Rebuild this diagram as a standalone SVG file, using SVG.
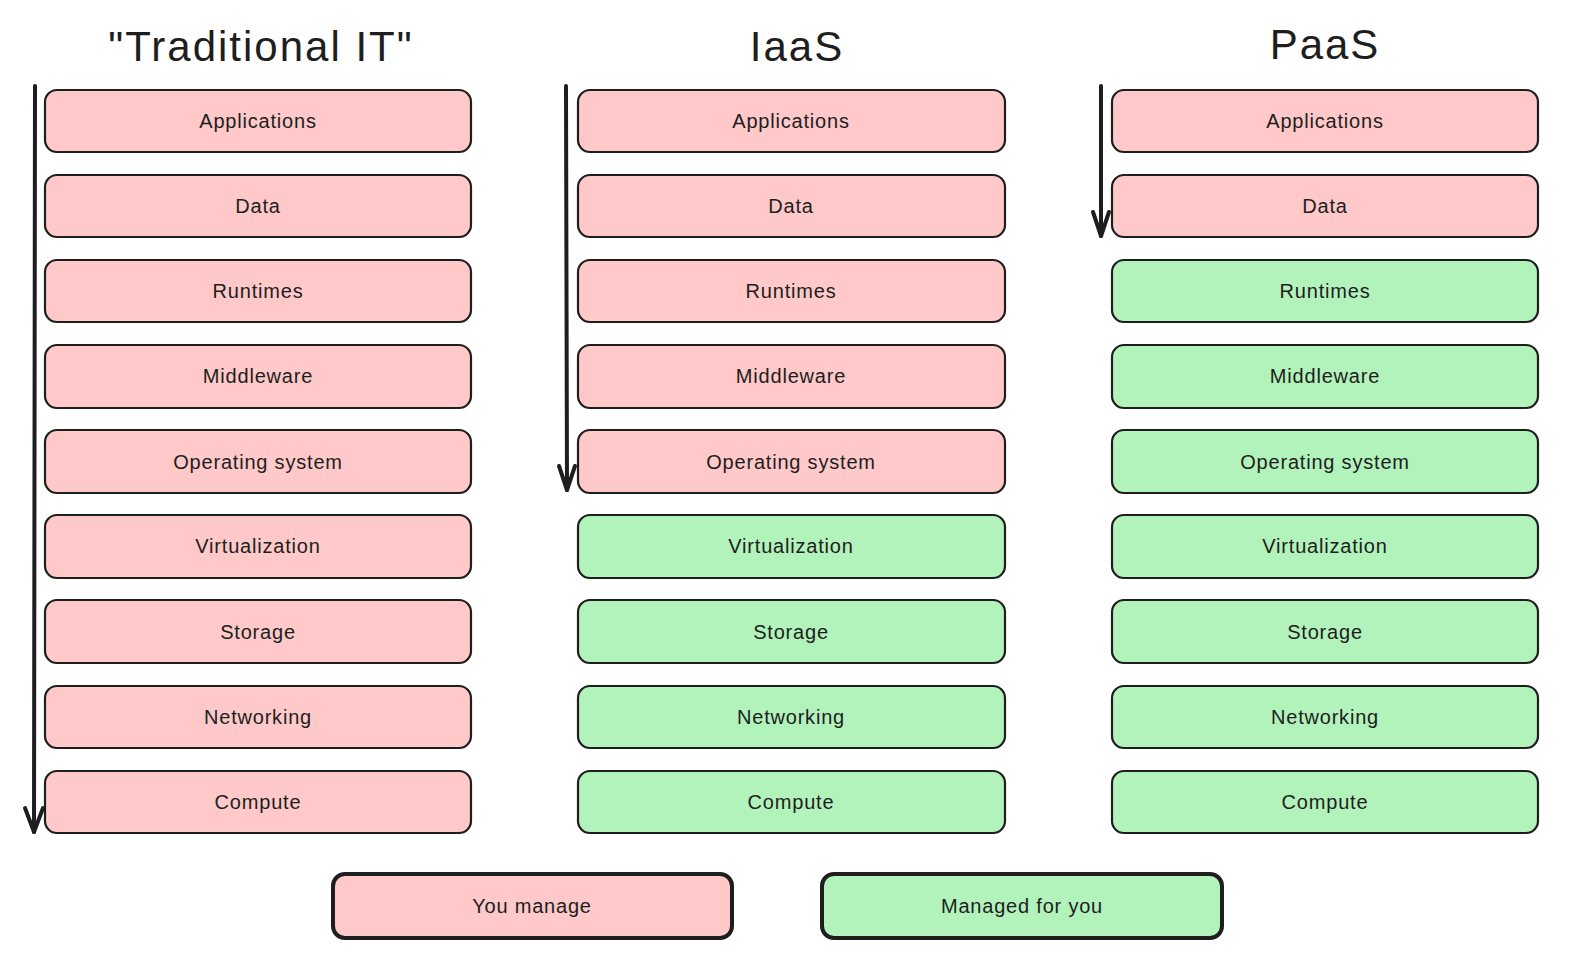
<svg xmlns="http://www.w3.org/2000/svg" width="1583" height="968" viewBox="0 0 1583 968">
<defs>
<style>
.bg{fill:#ffffff}
.you rect{fill:#ffc9c9;stroke:#1e1e1e;stroke-width:2.2}
.mgd rect{fill:#b2f2bb;stroke:#1e1e1e;stroke-width:2.2}
.leg rect{stroke-width:4}
.lbl{font-family:"Liberation Sans","DejaVu Sans",sans-serif;font-size:20px;letter-spacing:0.8px;fill:#1e1e1e;text-anchor:middle;dominant-baseline:central}
.title{font-family:"Liberation Sans","DejaVu Sans",sans-serif;font-size:42px;letter-spacing:2px;fill:#1e1e1e;text-anchor:middle}
.arr{stroke:#1e1e1e;stroke-width:4;fill:none;stroke-linecap:round;stroke-linejoin:round}
</style>
</defs>
<rect class="bg" x="0" y="0" width="1583" height="968"/>
<g id="titles">
<text class="title" x="261" y="61">"Traditional IT"</text>
<text class="title" x="797" y="61">IaaS</text>
<text class="title" x="1325" y="59">PaaS</text>
</g>
<g id="col1">
<g id="c1-applications" class="you"><rect x="45" y="90" width="426" height="62" rx="12"/><text class="lbl" x="258" y="121">Applications</text></g>
<g id="c1-data" class="you"><rect x="45" y="175" width="426" height="62" rx="12"/><text class="lbl" x="258" y="206">Data</text></g>
<g id="c1-runtimes" class="you"><rect x="45" y="260" width="426" height="62" rx="12"/><text class="lbl" x="258" y="291">Runtimes</text></g>
<g id="c1-middleware" class="you"><rect x="45" y="345" width="426" height="63" rx="12"/><text class="lbl" x="258" y="376">Middleware</text></g>
<g id="c1-os" class="you"><rect x="45" y="430" width="426" height="63" rx="12"/><text class="lbl" x="258" y="462">Operating system</text></g>
<g id="c1-virtualization" class="you"><rect x="45" y="515" width="426" height="63" rx="12"/><text class="lbl" x="258" y="546">Virtualization</text></g>
<g id="c1-storage" class="you"><rect x="45" y="600" width="426" height="63" rx="12"/><text class="lbl" x="258" y="632">Storage</text></g>
<g id="c1-networking" class="you"><rect x="45" y="686" width="426" height="62" rx="12"/><text class="lbl" x="258" y="717">Networking</text></g>
<g id="c1-compute" class="you"><rect x="45" y="771" width="426" height="62" rx="12"/><text class="lbl" x="258" y="802">Compute</text></g>
</g>
<g id="col2">
<g id="c2-applications" class="you"><rect x="578" y="90" width="427" height="62" rx="12"/><text class="lbl" x="791" y="121">Applications</text></g>
<g id="c2-data" class="you"><rect x="578" y="175" width="427" height="62" rx="12"/><text class="lbl" x="791" y="206">Data</text></g>
<g id="c2-runtimes" class="you"><rect x="578" y="260" width="427" height="62" rx="12"/><text class="lbl" x="791" y="291">Runtimes</text></g>
<g id="c2-middleware" class="you"><rect x="578" y="345" width="427" height="63" rx="12"/><text class="lbl" x="791" y="376">Middleware</text></g>
<g id="c2-os" class="you"><rect x="578" y="430" width="427" height="63" rx="12"/><text class="lbl" x="791" y="462">Operating system</text></g>
<g id="c2-virtualization" class="mgd"><rect x="578" y="515" width="427" height="63" rx="12"/><text class="lbl" x="791" y="546">Virtualization</text></g>
<g id="c2-storage" class="mgd"><rect x="578" y="600" width="427" height="63" rx="12"/><text class="lbl" x="791" y="632">Storage</text></g>
<g id="c2-networking" class="mgd"><rect x="578" y="686" width="427" height="62" rx="12"/><text class="lbl" x="791" y="717">Networking</text></g>
<g id="c2-compute" class="mgd"><rect x="578" y="771" width="427" height="62" rx="12"/><text class="lbl" x="791" y="802">Compute</text></g>
</g>
<g id="col3">
<g id="c3-applications" class="you"><rect x="1112" y="90" width="426" height="62" rx="12"/><text class="lbl" x="1325" y="121">Applications</text></g>
<g id="c3-data" class="you"><rect x="1112" y="175" width="426" height="62" rx="12"/><text class="lbl" x="1325" y="206">Data</text></g>
<g id="c3-runtimes" class="mgd"><rect x="1112" y="260" width="426" height="62" rx="12"/><text class="lbl" x="1325" y="291">Runtimes</text></g>
<g id="c3-middleware" class="mgd"><rect x="1112" y="345" width="426" height="63" rx="12"/><text class="lbl" x="1325" y="376">Middleware</text></g>
<g id="c3-os" class="mgd"><rect x="1112" y="430" width="426" height="63" rx="12"/><text class="lbl" x="1325" y="462">Operating system</text></g>
<g id="c3-virtualization" class="mgd"><rect x="1112" y="515" width="426" height="63" rx="12"/><text class="lbl" x="1325" y="546">Virtualization</text></g>
<g id="c3-storage" class="mgd"><rect x="1112" y="600" width="426" height="63" rx="12"/><text class="lbl" x="1325" y="632">Storage</text></g>
<g id="c3-networking" class="mgd"><rect x="1112" y="686" width="426" height="62" rx="12"/><text class="lbl" x="1325" y="717">Networking</text></g>
<g id="c3-compute" class="mgd"><rect x="1112" y="771" width="426" height="62" rx="12"/><text class="lbl" x="1325" y="802">Compute</text></g>
</g>
<g id="legend">
<g id="legend-you" class="you leg"><rect x="333" y="874" width="399" height="64" rx="12"/><text class="lbl" x="532" y="906">You manage</text></g>
<g id="legend-managed" class="mgd leg"><rect x="822" y="874" width="400" height="64" rx="12"/><text class="lbl" x="1022" y="906">Managed for you</text></g>
</g>
<g id="connectors">
<path class="arr" d="M35 86 L34 832"/>
<path class="arr" d="M25 808 L34 832 L43 808"/>
<path class="arr" d="M566 86 L567 490"/>
<path class="arr" d="M559 466 L567 490 L575 466"/>
<path class="arr" d="M1101 86 L1101 236"/>
<path class="arr" d="M1093 212 L1101 236 L1109 212"/>
</g>
</svg>
